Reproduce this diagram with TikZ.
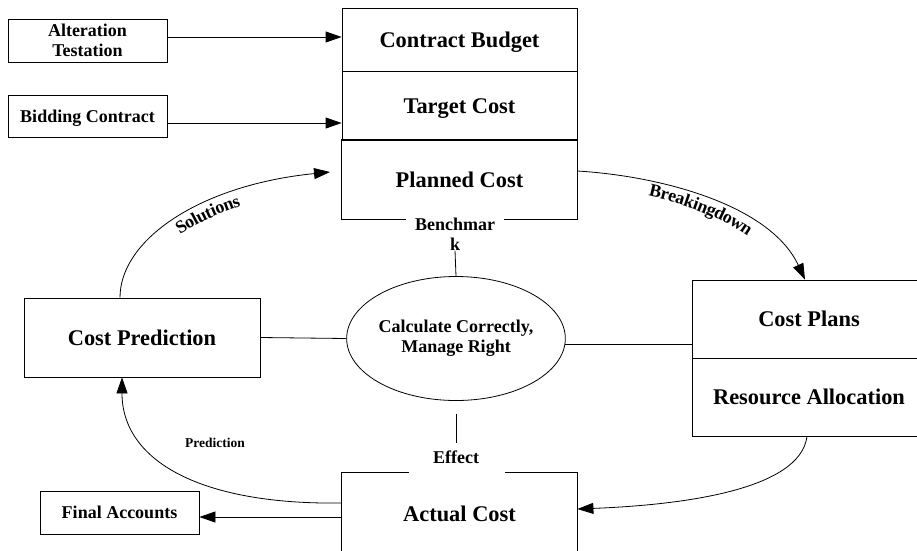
\documentclass[tikz,border=0pt]{standalone}
\usepackage{fontspec}
\setmainfont{Liberation Serif}
\usetikzlibrary{arrows.meta,shapes.geometric,decorations.text}
\tikzset{
  big/.style={font=\fontsize{22.4}{26}\selectfont\bfseries, text height=15pt, text depth=0pt},
  mid/.style={font=\fontsize{18}{20}\selectfont\bfseries},
  midone/.style={mid, text height=12pt, text depth=0pt},
  box/.style={draw, rectangle, inner sep=0pt},
  arr/.style={-{Triangle[length=16pt,width=11pt]}},
}
\begin{document}
\begin{tikzpicture}[x=1pt,y=-1pt,line width=0.8pt]
\useasboundingbox (0,0) rectangle (917,550);
\fill[white] (0,0) rectangle (917,550);
\clip (0,0) rectangle (917,550);

% nodes
\node[box, mid, align=center, minimum width=159pt, minimum height=43pt] (alt) at (87.5,40.5) {Alteration\\Testation};
\node[box, midone, minimum width=159pt, minimum height=42pt] (bid) at (87.5,116) {Bidding Contract};

\node[box, big, minimum width=235pt, minimum height=63pt] (budget) at (459.5,39.5) {Contract Budget};
\node[box, big, minimum width=235pt, minimum height=69pt] (target) at (459.5,105.5) {Target Cost};
\node[rectangle, inner sep=0pt, big, minimum width=235pt, minimum height=79pt] (planned) at (459.5,179.5) {Planned Cost};

\node[mid, align=center, fill=white, inner xsep=9pt, inner ysep=0pt] (bench) at (455,234) {Benchmar\\k};

\node[box, big, minimum width=236pt, minimum height=79pt] (pred) at (142,337.5) {Cost Prediction};
\node[draw, ellipse, mid, align=center, inner sep=0pt, minimum width=218pt, minimum height=124pt] (ell) at (456,338.5) {Calculate Correctly,\\Manage Right};

\node[box, big, minimum width=234pt, minimum height=78pt] (plans) at (809,319) {Cost Plans};
\node[box, big, minimum width=234pt, minimum height=78pt] (resource) at (809,397) {Resource Allocation};

\node[midone, inner xsep=0pt, inner ysep=8pt] (effect) at (456,457) {Effect};
\node[rectangle, inner sep=0pt, big, minimum width=235pt, minimum height=82pt] (actual) at (459.5,514) {Actual Cost};
\node[box, midone, minimum width=159pt, minimum height=43pt] (final) at (119.5,512.5) {Final Accounts};

\node[font=\fontsize{13.5}{15}\selectfont\bfseries, text height=9pt, text depth=0pt] (predlbl) at (215,443) {Prediction};

% partial borders
\draw (planned.south west -| bench.west) -- (planned.south west) -- (planned.north west) -- (planned.north east) -- (planned.south east) -- (planned.south east -| bench.east);
\draw ([xshift=67pt]actual.north west) -- (actual.north west) -- (actual.south west);
\draw ([xshift=-72pt]actual.north east) -- (actual.north east) -- (actual.south east);

% straight arrows
\path ([yshift=3.5pt]alt.east) coordinate (a1);
\draw[arr] (a1) -- (a1 -| budget.west);
\path ([yshift=-7pt]bid.east) coordinate (b1);
\draw[arr] (b1) -- (b1 -| target.west);
\path ([yshift=-3pt]actual.west) coordinate (fa);
\draw[arr] (fa) -- (fa -| final.east);

% plain lines
\draw (pred.east) -- (ell.west);
\draw (ell.-3) -- (ell.-3 -| plans.west);
\draw (ell.north) -- (bench.south);
\draw ([yshift=-13pt]ell.south) -- (effect.north);

% curved arrows
\coordinate (solEnd) at (330,172);
\draw[arr, postaction={decorate, decoration={text along path, text={|\fontsize{18}{20}\selectfont\bfseries|Solutions}, text align=center, raise=-16pt}}]
  ([xshift=-22pt]pred.north) .. controls +(0,-58) and +(-130,13) .. (solEnd);
\draw[arr, postaction={decorate, decoration={text along path, text={|\fontsize{18}{20}\selectfont\bfseries|Breakingdown}, text align=center, raise=-15pt}}]
  ([yshift=8.5pt]planned.east) .. controls +(83,5) and +(-35,-75) .. ([xshift=-4pt]plans.north);
\draw[arr] ([yshift=11pt]actual.west) .. controls +(-142,2) and +(0,83) .. ([xshift=-20pt]pred.south);
\draw[arr] ([xshift=-2pt]resource.south) .. controls +(-7,54) and +(103,-4) .. ([yshift=5pt]actual.east);
\end{tikzpicture}
\end{document}
